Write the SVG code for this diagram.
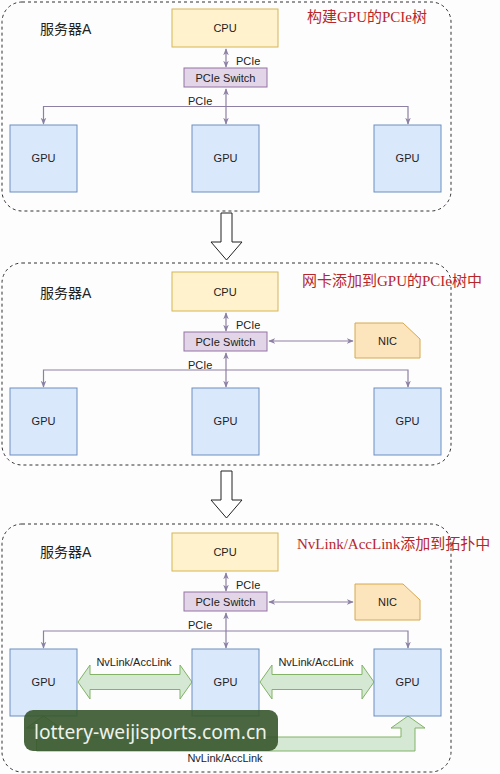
<svg xmlns="http://www.w3.org/2000/svg" width="500" height="774" viewBox="0 0 500 774">
<defs>
<style>
.panel{fill:none;stroke:#333;stroke-width:1;stroke-dasharray:3,3}
.cpu{fill:#fff2cc;stroke:#d6b656;stroke-width:1}
.sw{fill:#e1d5e7;stroke:#9673a6;stroke-width:1}
.gpu{fill:#dae8fc;stroke:#6c8ebf;stroke-width:1}
.nic{fill:#fce5bd;stroke:#d6a84a;stroke-width:1}
.nv{fill:#d5e8d4;stroke:#82b366;stroke-width:1}
.lbl{font-family:"Liberation Sans",Arial,sans-serif;font-size:11px;fill:#222;text-anchor:middle}
.pl{font-family:"Liberation Sans",Arial,sans-serif;font-size:11px;fill:#222}
.srv{font-family:"Liberation Sans","Noto Sans CJK SC",sans-serif;font-size:14px;fill:#222}
.ttl{font-family:"Liberation Serif","Noto Sans CJK SC",serif;font-size:15px;fill:#b8262b}
.ln{fill:none;stroke:#8c80a4;stroke-width:1.2}
.big{fill:#fff;stroke:#222;stroke-width:1}
</style>
<marker id="ah" viewBox="0 0 10 10" refX="9" refY="5" markerWidth="7" markerHeight="7" orient="auto-start-reverse" markerUnits="userSpaceOnUse">
<path d="M0,1 L10,5 L0,9 L3,5 Z" fill="#8c80a4"/>
</marker>
</defs>
<rect width="500" height="774" fill="#fdfdfd"/>

<!-- Panel 1 -->
<g id="panel1">
<rect class="panel" x="2" y="2" width="449" height="209" rx="20"/>
<text class="srv" x="40" y="34">服务器A</text>
<text class="ttl" x="307" y="22">构建GPU的PCIe树</text>
</g>
<g id="connectors1">
<line class="ln" x1="226" y1="49" x2="226" y2="67" marker-start="url(#ah)" marker-end="url(#ah)"/>
<line class="ln" x1="226" y1="89" x2="226" y2="124" marker-start="url(#ah)" marker-end="url(#ah)"/>
<polyline class="ln" points="43.5,124 43.5,106.5 408,106.5 408,124" marker-start="url(#ah)" marker-end="url(#ah)"/>
<text class="pl" x="236" y="65">PCIe</text>
<text class="pl" x="188" y="105">PCIe</text>
</g>
<g id="cpu1"><rect class="cpu" x="172" y="9" width="106" height="38"/><text class="lbl" x="225" y="32">CPU</text></g>
<g id="switch1"><rect class="sw" x="184" y="68" width="83" height="19"/><text class="lbl" x="225.5" y="81.5">PCIe Switch</text></g>
<g id="gpu1a"><rect class="gpu" x="10" y="125" width="67" height="67"/><text class="lbl" x="43.5" y="162">GPU</text></g>
<g id="gpu1b"><rect class="gpu" x="192" y="125" width="67" height="67"/><text class="lbl" x="225.5" y="162">GPU</text></g>
<g id="gpu1c"><rect class="gpu" x="374" y="125" width="67" height="67"/><text class="lbl" x="407.5" y="162">GPU</text></g>

<g id="step1"><path class="big" d="M221,213 L232,213 L232,242 L242,242 L226.5,260 L211,242 L221,242 Z"/></g>

<!-- Panel 2 -->
<g id="panel2">
<rect class="panel" x="2" y="263" width="449" height="202" rx="20"/>
<text class="srv" x="40" y="298">服务器A</text>
<text class="ttl" x="302" y="286">网卡添加到GPU的PCIe树中</text>
</g>
<g id="connectors2">
<line class="ln" x1="226" y1="313" x2="226" y2="331" marker-start="url(#ah)" marker-end="url(#ah)"/>
<line class="ln" x1="226" y1="353" x2="226" y2="387" marker-start="url(#ah)" marker-end="url(#ah)"/>
<line class="ln" x1="269" y1="341" x2="353" y2="341" marker-start="url(#ah)" marker-end="url(#ah)"/>
<polyline class="ln" points="43.5,387 43.5,370 408,370 408,387" marker-start="url(#ah)" marker-end="url(#ah)"/>
<text class="pl" x="236" y="329">PCIe</text>
<text class="pl" x="188" y="369">PCIe</text>
</g>
<g id="cpu2"><rect class="cpu" x="172" y="272" width="106" height="39"/><text class="lbl" x="225" y="295.5">CPU</text></g>
<g id="switch2"><rect class="sw" x="184" y="332" width="83" height="19"/><text class="lbl" x="225.5" y="345.5">PCIe Switch</text></g>
<g id="nic2"><path class="nic" d="M355,323 L403,323 L420,339 L420,358 L355,358 Z"/><text class="lbl" x="387.5" y="345">NIC</text></g>
<g id="gpu2a"><rect class="gpu" x="10" y="388" width="67" height="67"/><text class="lbl" x="43.5" y="425">GPU</text></g>
<g id="gpu2b"><rect class="gpu" x="192" y="388" width="67" height="67"/><text class="lbl" x="225.5" y="425">GPU</text></g>
<g id="gpu2c"><rect class="gpu" x="374" y="388" width="67" height="67"/><text class="lbl" x="407.5" y="425">GPU</text></g>

<g id="step2"><path class="big" d="M221,471 L232,471 L232,500 L242,500 L226.5,518 L211,500 L221,500 Z"/></g>

<!-- Panel 3 -->
<g id="panel3">
<rect class="panel" x="2" y="524" width="449" height="248" rx="20"/>
<text class="srv" x="40" y="557">服务器A</text>
<text class="ttl" x="297" y="549">NvLink/AccLink添加到拓扑中</text>
</g>
<g id="connectors3">
<line class="ln" x1="226" y1="573" x2="226" y2="591" marker-start="url(#ah)" marker-end="url(#ah)"/>
<line class="ln" x1="226" y1="613" x2="226" y2="648" marker-start="url(#ah)" marker-end="url(#ah)"/>
<line class="ln" x1="269" y1="602" x2="353" y2="602" marker-start="url(#ah)" marker-end="url(#ah)"/>
<polyline class="ln" points="43.5,648 43.5,631 408,631 408,648" marker-start="url(#ah)" marker-end="url(#ah)"/>
<text class="pl" x="236" y="589">PCIe</text>
<text class="pl" x="188" y="629">PCIe</text>
<path class="nv" d="M78,682 L90,665 L90,674.5 L180,674.5 L180,665 L192,682 L180,699 L180,689.5 L90,689.5 L90,699 Z"/>
<path class="nv" d="M260,682 L272,665 L272,674.5 L362,674.5 L362,665 L374,682 L362,699 L362,689.5 L272,689.5 L272,699 Z"/>
<path class="nv" d="M43.5,716 L60.5,728 L50.5,728 L50.5,737 L401,737 L401,728 L391,728 L408,716 L425,728 L415,728 L415,751 L36.5,751 L36.5,728 L26.5,728 Z"/>
<text class="lbl" x="134" y="666">NvLink/AccLink</text>
<text class="lbl" x="316" y="666">NvLink/AccLink</text>
<text class="lbl" x="225" y="762">NvLink/AccLink</text>
</g>
<g id="cpu3"><rect class="cpu" x="172" y="533" width="106" height="38"/><text class="lbl" x="225" y="556">CPU</text></g>
<g id="switch3"><rect class="sw" x="184" y="592" width="83" height="19"/><text class="lbl" x="225.5" y="605.5">PCIe Switch</text></g>
<g id="nic3"><path class="nic" d="M355,584 L403,584 L420,600 L420,620 L355,620 Z"/><text class="lbl" x="387.5" y="606">NIC</text></g>
<g id="gpu3a"><rect class="gpu" x="10" y="649" width="67" height="67"/><text class="lbl" x="43.5" y="686">GPU</text></g>
<g id="gpu3b"><rect class="gpu" x="192" y="649" width="67" height="67"/><text class="lbl" x="225.5" y="686">GPU</text></g>
<g id="gpu3c"><rect class="gpu" x="374" y="649" width="67" height="67"/><text class="lbl" x="407.5" y="686">GPU</text></g>

<g id="watermark">
<rect x="24" y="710" width="254" height="41" rx="9" fill="#36562c" fill-opacity="0.9"/>
<text x="34" y="739" font-family="'Noto Sans','Open Sans',sans-serif" font-size="20" fill="#eef2ea" textLength="233" lengthAdjust="spacingAndGlyphs">lottery-weijisports.com.cn</text>
</g>
</svg>
